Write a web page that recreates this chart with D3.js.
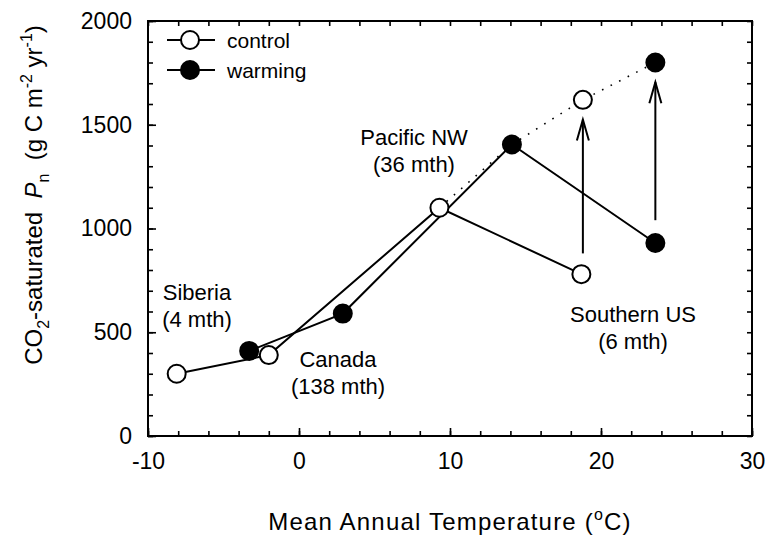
<!DOCTYPE html>
<html>
<head>
<meta charset="utf-8">
<script src="https://cdn.jsdelivr.net/npm/d3@7"></script>
<style>
  body { margin: 0; background: #fff; }
  svg { display: block; font-family: 'Liberation Sans', Arial, sans-serif; }
  .axis text { font-size: 23px; fill: #000; }
  .axis line { stroke: #000; stroke-width: 1.6; }
  .axis path { display: none; }
</style>
</head>
<body>
<main></main>
<script>
// site order: Siberia, Canada, Pacific NW, Southern US
const sites = ['Siberia', 'Canada', 'Pacific NW', 'Southern US'];
const siteMonths = ['4 mth', '138 mth', '36 mth', '6 mth'];

const controlTemp = [-8.1, -2.0, 9.3, 18.7];
const controlPn = [300, 390, 1100, 780];

const warmingTemp = [-3.3, 2.9, 14.1, 23.6];
const warmingPn = [410, 590, 1405, 930];

// CO2-saturated expectation for the southern US (dotted)
const expectedTemp = [18.8, 23.6];
const expectedPn = [1620, 1800];

// vertical arrows: start / end Pn
const arrowTemp = [18.8, 23.6];
const arrowFrom = [880, 1040];
const arrowTo = [1525, 1705];

const xMajor = [-10, 0, 10, 20, 30];
const xMinor = d3.range(-10, 31, 2);
const yMajor = [0, 500, 1000, 1500, 2000];
const yMinor = d3.range(0, 2001, 100);

const width = 771;
const height = 545;
const margin = { top: 21, right: 19, bottom: 109, left: 148 };

const x = d3.scaleLinear().domain([-10, 30]).range([margin.left, width - margin.right]);
const y = d3.scaleLinear().domain([0, 2000]).range([height - margin.bottom, margin.top]);

const svg = d3.select('main')
  .append('svg')
  .attr('width', width)
  .attr('height', height)
  .attr('viewBox', [0, 0, width, height]);

// axes, ticks pointing inwards on all four sides
const axes = svg.append('g');
const [x0, x1] = x.range();
const [y0, y1] = y.range();
const plain = d => String(d);

axes.append('g').attr('class', 'axis')
  .attr('transform', `translate(0,${y0})`)
  .call(d3.axisBottom(x).tickValues(xMinor).tickSize(-5).tickSizeOuter(0).tickFormat(''));
axes.append('g').attr('class', 'axis')
  .attr('transform', `translate(0,${y0})`)
  .call(d3.axisBottom(x).tickValues(xMajor).tickSize(-8).tickSizeOuter(0).tickPadding(17).tickFormat(plain));
axes.append('g').attr('class', 'axis')
  .attr('transform', `translate(0,${y1})`)
  .call(d3.axisTop(x).tickValues(xMinor).tickSize(-5).tickSizeOuter(0).tickFormat(''));

axes.append('g').attr('class', 'axis')
  .attr('transform', `translate(${x0},0)`)
  .call(d3.axisLeft(y).tickValues(yMinor).tickSize(-5).tickSizeOuter(0).tickFormat(''));
axes.append('g').attr('class', 'axis')
  .attr('transform', `translate(${x0},0)`)
  .call(d3.axisLeft(y).tickValues(yMajor).tickSize(-8).tickSizeOuter(0).tickPadding(16).tickFormat(plain));
axes.append('g').attr('class', 'axis')
  .attr('transform', `translate(${x1},0)`)
  .call(d3.axisRight(y).tickValues(yMinor).tickSize(-5).tickSizeOuter(0).tickFormat(''));

axes.append('rect')
  .attr('x', x0).attr('y', y1)
  .attr('width', x1 - x0).attr('height', y0 - y1)
  .attr('fill', 'none').attr('stroke', '#000').attr('stroke-width', 2);

// axis titles
svg.append('text')
  .attr('x', (x0 + x1) / 2)
  .attr('y', 530)
  .attr('text-anchor', 'middle')
  .attr('font-size', 24)
  .attr('letter-spacing', 1.2)
  .html('Mean Annual Temperature (<tspan dy="-10" font-size="16">o</tspan><tspan dy="10">C)</tspan>');

svg.append('text')
  .attr('transform', 'translate(42,195) rotate(-90)')
  .attr('text-anchor', 'middle')
  .attr('font-size', 24)
  .attr('xml:space', 'preserve')
  .html('CO<tspan dy="7" font-size="16">2</tspan><tspan dy="-7">-saturated  </tspan><tspan font-style="italic">P</tspan><tspan dy="7" font-size="16">n</tspan><tspan dy="-7">  (g C m</tspan><tspan dy="-10" font-size="16">-2</tspan><tspan dy="10"> yr</tspan><tspan dy="-10" font-size="16">-1</tspan><tspan dy="10">)</tspan>');

const plot = svg.append('g');
const line = d3.line().x(d => x(d[0])).y(d => y(d[1]));

const controlPts = d3.zip(controlTemp, controlPn);
const warmingPts = d3.zip(warmingTemp, warmingPn);
const expectedPts = d3.zip(expectedTemp, expectedPn);

// dotted line: Pacific NW control -> warming -> expected southern points
plot.append('path')
  .attr('d', line([controlPts[2], warmingPts[2], ...expectedPts]))
  .attr('fill', 'none')
  .attr('stroke', '#000')
  .attr('stroke-width', 1.6)
  .attr('stroke-dasharray', '1.6 8');

[controlPts, warmingPts].forEach(pts => {
  plot.append('path')
    .attr('d', line(pts))
    .attr('fill', 'none')
    .attr('stroke', '#000')
    .attr('stroke-width', 2);
});

// arrows
arrowTemp.forEach((t, i) => {
  const ax = x(t);
  const ya = y(arrowFrom[i]);
  const yb = y(arrowTo[i]);
  plot.append('line')
    .attr('x1', ax).attr('x2', ax)
    .attr('y1', ya).attr('y2', yb)
    .attr('stroke', '#000').attr('stroke-width', 2);
  plot.append('path')
    .attr('d', `M${ax - 6},${yb + 21}L${ax},${yb}L${ax + 6},${yb + 21}`)
    .attr('fill', 'none').attr('stroke', '#000').attr('stroke-width', 2);
});

const drawMarkers = (pts, fill) => {
  plot.append('g')
    .selectAll('circle')
    .data(pts)
    .enter()
    .append('circle')
    .attr('cx', d => x(d[0]))
    .attr('cy', d => y(d[1]))
    .attr('r', 9)
    .attr('fill', fill)
    .attr('stroke', '#000')
    .attr('stroke-width', 2);
};
drawMarkers(controlPts, '#fff');
drawMarkers(warmingPts, '#000');
drawMarkers([expectedPts[0]], '#fff');
drawMarkers([expectedPts[1]], '#000');

// site labels
const labelPos = [
  { cx: 197, y: 300 },
  { cx: 338, y: 367 },
  { cx: 414, y: 145 },
  { cx: 633, y: 322 },
];
const labels = plot.append('g').attr('font-size', 22).attr('text-anchor', 'middle');
sites.forEach((s, i) => {
  const t = labels.append('text').attr('x', labelPos[i].cx).attr('y', labelPos[i].y);
  t.append('tspan').attr('x', labelPos[i].cx).text(s);
  t.append('tspan').attr('x', labelPos[i].cx).attr('dy', 27).text(`(${siteMonths[i]})`);
});

// legend
const legend = svg.append('g').attr('transform', 'translate(167,40)');
[['control', '#fff'], ['warming', '#000']].forEach(([name, fill], i) => {
  const g = legend.append('g').attr('transform', `translate(0,${i * 30})`);
  g.append('line').attr('x1', 0).attr('x2', 48).attr('stroke', '#000').attr('stroke-width', 2);
  g.append('circle').attr('cx', 23).attr('r', 9).attr('fill', fill).attr('stroke', '#000').attr('stroke-width', 2);
  g.append('text').attr('x', 60).attr('y', 8).attr('font-size', 21).text(name);
});
</script>
</body>
</html>
